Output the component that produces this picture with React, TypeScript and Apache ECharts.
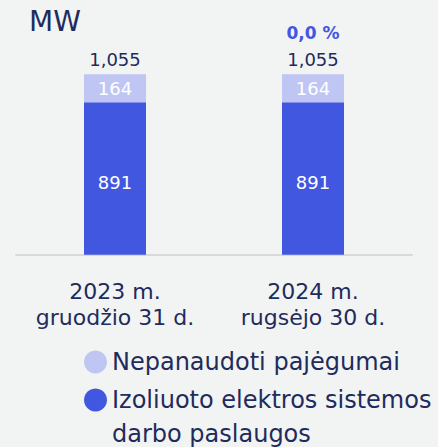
import React, { useEffect, useRef } from "react";
import * as echarts from "echarts";

const categories = ["2023 m.\ngruodžio 31 d.", "2024 m.\nrugsėjo 30 d."];
const isolatedServices = [891, 891];
const unusedCapacity = [164, 164];
const totals = ["1,055", "1,055"];
const changes = ["", "0,0 %"];
const seriesNames = ["Nepanaudoti pajėgumai", "Izoliuoto elektros sistemos darbo paslaugos"];
const unitLabel = "MW";

const FONT = "DejaVu Sans";
const TEXT = "#1f2b5b";
const DARK = "#4257e0";
const LIGHT = "#bfc6f3";
const BG = "#f2f4f3";

export default function App() {
  const ref = useRef<HTMLDivElement>(null);
  useEffect(() => {
    if (!ref.current) return;
    const chart = echarts.init(ref.current, null, { renderer: "svg" });
    chart.setOption({
      animation: false,
      backgroundColor: BG,
      textStyle: { fontFamily: FONT, color: TEXT },
      title: {
        text: unitLabel,
        left: 24,
        top: 2,
        textStyle: { fontFamily: FONT, fontSize: 28, fontWeight: "normal", color: TEXT },
      },
      legend: [
        {
          data: [seriesNames[0]],
          orient: "vertical",
          left: 79,
          top: 340,
          icon: "circle",
          itemWidth: 23,
          itemHeight: 23,
          textStyle: { fontFamily: FONT, fontSize: 24, color: TEXT, lineHeight: 34 },
          selectedMode: false,
        },
        {
          data: [seriesNames[1]],
          orient: "vertical",
          left: 79,
          top: 344,
          icon: "circle",
          itemWidth: 23,
          itemHeight: 23,
          formatter: () => "\nIzoliuoto elektros sistemos\ndarbo paslaugos",
          textStyle: { fontFamily: FONT, fontSize: 24, color: TEXT, lineHeight: 34 },
          selectedMode: false,
        },
      ],
      grid: { left: 16, right: 26, top: 74.3, bottom: 192.3, containLabel: false },
      xAxis: {
        type: "category",
        data: categories,
        axisLine: { show: true, lineStyle: { color: "#d9d9d9", width: 2 } },
        axisTick: { show: false },
        axisLabel: {
          interval: 0,
          hideOverlap: false,
          fontFamily: FONT,
          fontSize: 22,
          lineHeight: 26,
          color: TEXT,
          margin: 24,
        },
      },
      yAxis: {
        type: "value",
        min: 0,
        max: 1055,
        show: false,
        splitLine: { show: false },
      },
      series: [
        {
          name: seriesNames[1],
          type: "bar",
          stack: "t",
          data: isolatedServices,
          barWidth: 62,
          itemStyle: { color: DARK },
          label: {
            show: true,
            position: "inside",
            offset: [0, 4],
            color: "#ffffff",
            fontFamily: FONT,
            fontSize: 18,
          },
        },
        {
          name: seriesNames[0],
          type: "bar",
          stack: "t",
          data: unusedCapacity,
          barWidth: 62,
          itemStyle: { color: LIGHT },
          label: {
            show: true,
            position: "inside",
            color: "#ffffff",
            fontFamily: FONT,
            fontSize: 18,
          },
        },
        {
          name: "total",
          type: "bar",
          stack: "t",
          data: [0, 0],
          barWidth: 62,
          itemStyle: { color: "transparent" },
          label: {
            show: true,
            position: "top",
            distance: 4,
            formatter: (p: any) =>
              changes[p.dataIndex]
                ? `{pct|${changes[p.dataIndex]}}\n{val|${totals[p.dataIndex]}}`
                : `{val|${totals[p.dataIndex]}}`,
            rich: {
              pct: { fontFamily: FONT, fontSize: 17, fontWeight: "bold", color: DARK, lineHeight: 30 },
              val: { fontFamily: FONT, fontSize: 18, color: TEXT, lineHeight: 22 },
            },
          },
        },
      ],
    });
    return () => chart.dispose();
  }, []);
  return (
    <div
      ref={ref}
      style={{ position: "fixed", left: 0, top: 0, width: 438, height: 447, background: BG }}
    />
  );
}
